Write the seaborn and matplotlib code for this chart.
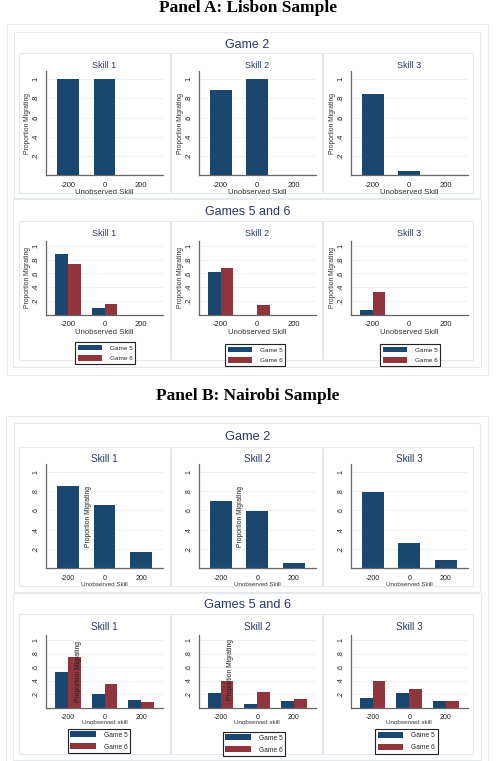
import matplotlib
matplotlib.use("Agg")
import matplotlib.pyplot as plt
from matplotlib.patches import Rectangle, Patch
import pandas as pd
import seaborn as sns

# values (proportion migrating by unobserved skill)
skill_levels = [-200, 0, 200]
xtick_labels = ["-200", "0", "200"]
ytick_vals = [0.2, 0.4, 0.6, 0.8, 1.0]
ytick_labels = [".2", ".4", ".6", ".8", "1"]
skill_titles = ["Skill 1", "Skill 2", "Skill 3"]
game_labels = ["Game 5", "Game 6"]

# Panel A: Lisbon
lisbon_game2 = [[1.0, 1.0, 0.0], [0.89, 1.0, 0.0], [0.84, 0.045, 0.0]]
lisbon_game5 = [[0.89, 0.10, 0.0], [0.62, 0.0, 0.0], [0.07, 0.0, 0.0]]
lisbon_game6 = [[0.74, 0.15, 0.0], [0.675, 0.14, 0.0], [0.325, 0.0, 0.0]]

# Panel B: Nairobi
nairobi_game2 = [[0.855, 0.66, 0.17], [0.695, 0.595, 0.06], [0.795, 0.265, 0.085]]
nairobi_game5 = [[0.525, 0.205, 0.11], [0.215, 0.045, 0.095], [0.145, 0.22, 0.09]]
nairobi_game6 = [[0.745, 0.35, 0.075], [0.39, 0.23, 0.125], [0.39, 0.27, 0.09]]

NAVY = "#1a476f"
MAROON = "#90353b"
TITLE_C = "#2b3a67"
BOX_C = "#e4e9ec"

sns.set_theme(style="white")
plt.rcParams["font.family"] = ["Liberation Sans", "DejaVu Sans"]

W, H = 497, 761
fig = plt.figure(figsize=(W / 100, H / 100), dpi=100)
fig.patch.set_facecolor("white")

AX_LEFTS = [46, 198.7, 350.7]
AX_W = 117
YMAX = 1.08


def ftext(x, y, s, **kw):
    kw.setdefault("ha", "center")
    kw.setdefault("va", "center")
    fig.text(x / W, 1 - y / H, s, **kw)


def box(x0, y0, x1, y1, color=BOX_C, lw=0.8):
    fig.add_artist(Rectangle((x0 / W, 1 - y1 / H), (x1 - x0) / W, (y1 - y0) / H,
                             transform=fig.transFigure, fill=False, ec=color, lw=lw))


def style_axis(ax, tick_fs):
    ax.set_xlim(-320, 320)
    ax.set_ylim(0, YMAX)
    ax.set_xticks(skill_levels, xtick_labels)
    ax.set_yticks(ytick_vals, ytick_labels, rotation=90, va="center")
    ax.tick_params(axis="both", labelsize=tick_fs, length=2.5, width=0.6,
                   color="#555555", pad=2, labelcolor="#222222")
    ax.grid(axis="y", color="#edf0f2", lw=0.6)
    ax.set_axisbelow(True)
    for s in ["top", "right"]:
        ax.spines[s].set_visible(False)
    for s in ["left", "bottom"]:
        ax.spines[s].set_color("#666666")
        ax.spines[s].set_linewidth(0.9)
    ax.set_xlabel("")
    ax.set_ylabel("")
    ax.set_facecolor("white")


def draw_row(zero, unit, g5, g6=None, tick_fs=5):
    axes = []
    top = zero - YMAX * unit
    for i, left in enumerate(AX_LEFTS):
        ax = fig.add_axes([left / W, 1 - zero / H, AX_W / W, (zero - top) / H])
        if g6 is None:
            sns.barplot(x=skill_levels, y=g5[i], native_scale=True, color=NAVY,
                        saturation=1, width=0.6, errorbar=None, linewidth=0, ax=ax)
        else:
            df = pd.DataFrame({"skill": skill_levels * 2,
                               "prop": g5[i] + g6[i],
                               "game": [game_labels[0]] * 3 + [game_labels[1]] * 3})
            sns.barplot(data=df, x="skill", y="prop", hue="game", native_scale=True,
                        palette=[NAVY, MAROON], saturation=1, width=0.7,
                        errorbar=None, linewidth=0, legend=False, ax=ax)
        style_axis(ax, tick_fs)
        axes.append(ax)
    return axes


def add_legend(cx, cy, fs=4.8):
    handles = [Patch(facecolor=NAVY, edgecolor="none", label=game_labels[0]),
               Patch(facecolor=MAROON, edgecolor="none", label=game_labels[1])]
    leg = fig.legend(handles=handles, loc="center", bbox_to_anchor=(cx / W, 1 - cy / H),
                     fontsize=fs, handlelength=3.8, handleheight=1.0, handletextpad=1.2,
                     labelspacing=0.7, borderpad=0.4, frameon=True, fancybox=False,
                     edgecolor="#222222", framealpha=1, borderaxespad=0)
    leg.get_frame().set_linewidth(0.8)


sub_x = [(19.3, 170), (171, 321.7), (323.3, 473.3)]
centers = [l + AX_W / 2 for l in AX_LEFTS]

# ---------------- Panel A ----------------
ftext(248, 12, "Panel A: Lisbon Sample", family="Liberation Serif", weight="bold",
      fontsize=12.5, va="baseline", color="black")
box(7, 24, 488, 375)
box(14, 31.7, 480, 198)
box(12.7, 199, 481, 366.7)
for x0, x1 in sub_x:
    box(x0, 53.3, x1, 192.7)
    box(x0, 221, x1, 360)

ftext(247.5, 45, "Game 2", fontsize=9, color=TITLE_C)
draw_row(175.3, 96.3, lisbon_game2, tick_fs=5.5)
for i, cx in enumerate(centers):
    ftext(cx, 65.7, skill_titles[i], fontsize=6.5, color=TITLE_C)
    ftext(cx, 192, "Unobserved Skill", fontsize=5.6, color="#333333")
    ftext(AX_LEFTS[i] - 18.5, 123, "Proportion Migrating", rotation=90, fontsize=4.9,
          color="#333333")

ftext(247.5, 212, "Games 5 and 6", fontsize=9, color=TITLE_C)
draw_row(314.7, 68.7, lisbon_game5, lisbon_game6, tick_fs=5.5)
for i, cx in enumerate(centers):
    ftext(cx, 233.3, skill_titles[i], fontsize=6.5, color=TITLE_C)
    ftext(cx, 333, "Unobserved Skill", fontsize=5.6, color="#333333")
    ftext(AX_LEFTS[i] - 18.5, 277, "Proportion Migrating", rotation=90, fontsize=4.9,
          color="#333333")
for cx, cy in [(105, 353), (255, 355), (410, 355)]:
    add_legend(cx, cy, fs=4.6)

# ---------------- Panel B ----------------
ftext(248, 400.5, "Panel B: Nairobi Sample", family="Liberation Serif", weight="bold",
      fontsize=12.5, va="baseline", color="black")
box(6, 416, 488, 775)
box(14, 423.3, 480, 591.7)
box(12.7, 592.7, 481, 760)
for x0, x1 in sub_x:
    box(x0, 446.7, x1, 586)
    box(x0, 614.3, x1, 754)

ftext(247.5, 437.3, "Game 2", fontsize=9.2, color=TITLE_C)
axes_b2 = draw_row(568.3, 96.6, nairobi_game2, tick_fs=5)
for i, cx in enumerate(centers):
    ftext(cx, 459, skill_titles[i], fontsize=7.2, color=TITLE_C)
    ftext(cx, 584, "Unobserved Skill", fontsize=4.5, color="#333333")
for ax, xpos in zip(axes_b2[:2], [-86, -92]):
    ax.text(xpos, 0.54, "Proportion Migrating", rotation=90, ha="center", va="center",
            fontsize=4.9, color="#222222")

ftext(247.5, 605, "Games 5 and 6", fontsize=9.2, color=TITLE_C)
axes_b56 = draw_row(707.5, 67.5, nairobi_game5, nairobi_game6, tick_fs=5)
for i, cx in enumerate(centers):
    ftext(cx, 626.7, skill_titles[i], fontsize=7.2, color=TITLE_C)
    ftext(cx, 723, "Unobserved skill", fontsize=4.5, color="#333333")
for ax, xpos, ypos in zip(axes_b56[:2], [-142, -148], [0.54, 0.56]):
    ax.text(xpos, ypos, "Proportion Migrating", rotation=90, ha="center", va="center",
            fontsize=4.9, color="#222222")
for cx, cy in [(99, 741), (254, 744), (406.5, 741.5)]:
    add_legend(cx, cy, fs=4.8)

fig.savefig("out.png", dpi=100)
